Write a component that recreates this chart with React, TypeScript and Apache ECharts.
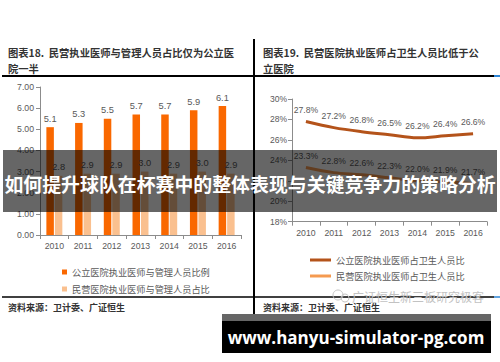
import React, { useEffect, useRef } from "react";
import * as echarts from "echarts";

const years = ["2010", "2011", "2012", "2013", "2014", "2015", "2016"];
const publicRatio = [5.1, 5.3, 5.5, 5.7, 5.7, 5.9, 6.1];
const privateRatio = [2.8, 2.9, 2.9, 3.0, 2.9, 3.0, 2.9];
const publicShare = [27.8, 27.2, 26.8, 26.5, 26.2, 26.4, 26.6];
const privateShare = [23.3, 22.8, 22.6, 22.3, 22.0, 21.9, 21.7];

const barNames = ["公立医院执业医师与管理人员比例", "民营医院执业医师与管理人员占比"];
const lineNames = ["公立医院执业医师占卫生人员比", "民营医院执业医师占卫生人员比"];

const leftTitle = ["图表18.  民营执业医师与管理人员占比仅为公立医", "院一半"];
const rightTitle = ["图表19.  民营医院执业医师占卫生人员比低于公", "立医院"];
const sourceText = "资料来源：卫计委、广证恒生";
const bannerText = "如何提升球队在杯赛中的整体表现与关键竞争力的策略分析";
const siteText = "www.hanyu-simulator-pg.com";
const watermarkText = "广证恒生新三板研究极客";

const CJK = "'Noto Sans CJK SC', sans-serif";
const NUM = "'Liberation Sans', Arial, sans-serif";
const LABEL = "#595959";
const AXIS = "#8c8c8c";

export default function App() {
  const ref = useRef<HTMLDivElement>(null);
  useEffect(() => {
    if (!ref.current) return;
    document.body.style.margin = "0";
    const chart = echarts.init(ref.current, null, { renderer: "svg" });
    const txt = (text: string, x: number, y: number, extra: any = {}, z = 5) => ({
      type: "text",
      x,
      y,
      z,
      style: {
        text,
        fill: "#333",
        fontSize: 10.3,
        fontWeight: "bold",
        fontFamily: CJK,
        verticalAlign: "middle",
        ...extra,
      },
    });
    const ln = (x1: number, y1: number, x2: number, y2: number, stroke = "#000", w = 2, z = 5) => ({
      type: "line",
      z,
      shape: { x1, y1, x2, y2 },
      style: { stroke, lineWidth: w },
    });
    chart.setOption({
      animation: false,
      backgroundColor: "#fff",
      grid: [
        { left: 40, top: 87, width: 201, height: 148 },
        { left: 292, top: 99, width: 195, height: 122.7 },
      ],
      xAxis: [
        {
          type: "category",
          gridIndex: 0,
          data: years,
          axisLine: { lineStyle: { color: AXIS } },
          axisTick: { show: true, length: 4, lineStyle: { color: AXIS } },
          axisLabel: { color: LABEL, fontSize: 8.7, fontFamily: NUM, margin: 6 },
        },
        {
          type: "category",
          gridIndex: 1,
          data: years,
          axisLine: { lineStyle: { color: AXIS } },
          axisTick: { show: true, length: 4, lineStyle: { color: AXIS } },
          axisLabel: { color: LABEL, fontSize: 8.7, fontFamily: NUM, margin: 7 },
        },
      ],
      yAxis: [
        {
          type: "value",
          gridIndex: 0,
          min: 0,
          max: 7,
          interval: 1,
          splitLine: { show: false },
          axisLine: { show: true, lineStyle: { color: AXIS } },
          axisTick: { show: true, length: 4, lineStyle: { color: AXIS } },
          axisLabel: {
            color: LABEL,
            fontSize: 8.7,
            fontFamily: NUM,
            margin: 6,
            formatter: (v: number) => v.toFixed(2),
          },
        },
        {
          type: "value",
          gridIndex: 1,
          min: 18,
          max: 30,
          interval: 2,
          splitLine: { show: false },
          axisLine: { show: true, lineStyle: { color: AXIS } },
          axisTick: { show: true, length: 4, lineStyle: { color: AXIS } },
          axisLabel: {
            color: LABEL,
            fontSize: 8.5,
            fontFamily: NUM,
            margin: 5,
            formatter: (v: number) => v + "%",
          },
        },
      ],
      legend: [
        {
          data: barNames,
          orient: "vertical",
          left: 57,
          top: 261,
          icon: "rect",
          itemWidth: 5,
          itemHeight: 5,
          itemGap: 5,
          textStyle: { color: LABEL, fontSize: 9.2, fontFamily: CJK, lineHeight: 12 },
        },
        {
          data: lineNames,
          orient: "vertical",
          left: 305,
          top: 249,
          icon: "rect",
          itemWidth: 21,
          itemHeight: 3,
          itemGap: 4,
          textStyle: { color: LABEL, fontSize: 9.2, fontFamily: CJK, lineHeight: 12 },
        },
      ],
      series: [
        {
          name: barNames[0],
          type: "bar",
          xAxisIndex: 0,
          yAxisIndex: 0,
          data: publicRatio,
          barWidth: 7.5,
          barGap: "13%",
          itemStyle: { color: "#FA6800" },
          label: {
            show: true,
            position: "top",
            distance: 4,
            color: LABEL,
            fontSize: 9.3,
            fontFamily: NUM,
            formatter: (p: any) => p.value.toFixed(1),
          },
        },
        {
          name: barNames[1],
          type: "bar",
          xAxisIndex: 0,
          yAxisIndex: 0,
          data: privateRatio,
          barWidth: 7.5,
          barGap: "13%",
          itemStyle: { color: "#FAC08F" },
          label: {
            show: true,
            position: "top",
            distance: 4,
            color: LABEL,
            fontSize: 9.3,
            fontFamily: NUM,
            formatter: (p: any) => p.value.toFixed(1),
          },
        },
        {
          name: lineNames[0],
          type: "line",
          xAxisIndex: 1,
          yAxisIndex: 1,
          data: publicShare,
          smooth: 0.35,
          symbol: "circle",
          symbolSize: 0.1,
          lineStyle: { color: "#B4531A", width: 3 },
          itemStyle: { color: "#B4531A" },
          label: {
            show: true,
            position: "top",
            distance: 7,
            color: LABEL,
            fontSize: 8.6,
            fontFamily: NUM,
            formatter: (p: any) => p.value.toFixed(1) + "%",
          },
        },
        {
          name: lineNames[1],
          type: "line",
          xAxisIndex: 1,
          yAxisIndex: 1,
          data: privateShare,
          smooth: 0.35,
          symbol: "circle",
          symbolSize: 0.1,
          lineStyle: { color: "#F59A50", width: 3 },
          itemStyle: { color: "#F59A50" },
          label: {
            show: true,
            position: "top",
            distance: 7,
            color: LABEL,
            fontSize: 8.6,
            fontFamily: NUM,
            formatter: (p: any) => p.value.toFixed(1) + "%",
          },
        },
      ],
      graphic: [
        txt(leftTitle[0], 8, 52),
        txt(leftTitle[1], 8, 68),
        txt(rightTitle[0], 263, 52),
        txt(rightTitle[1], 263, 68),
        ln(2, 76, 254, 76),
        ln(254, 76, 494, 76),
        ln(494, 76, 500, 76, "#2E86D6"),
        ln(254, 39, 254, 314),
        ln(2, 297, 254, 297, "#000", 1.5),
        ln(254, 297, 494, 297, "#000", 1.5),
        ln(494, 297, 500, 297, "#2E86D6", 1.5),
        txt(sourceText, 8, 307, { fontSize: 9 }),
        txt(sourceText, 263, 307, { fontSize: 9 }),
        {
          type: "circle",
          z: 6,
          shape: { cx: 338, cy: 295, r: 5 },
          style: { fill: "none", stroke: "#c4c4c4", lineWidth: 1 },
        },
        {
          type: "circle",
          z: 6,
          shape: { cx: 345, cy: 298, r: 4 },
          style: { fill: "none", stroke: "#c4c4c4", lineWidth: 1 },
        },
        txt(watermarkText, 352, 296, { fill: "#c2c2c2", fontSize: 12, fontWeight: "normal" }, 6),
        {
          type: "rect",
          z: 100,
          shape: { x: 3, y: 150, width: 494, height: 62 },
          style: { fill: "rgba(0,0,0,0.6)" },
        },
        txt(bannerText, 250, 183, { fill: "#fff", fontSize: 18.9, align: "center" }, 101),
        {
          type: "rect",
          z: 100,
          shape: { x: 222, y: 314, width: 269, height: 7 },
          style: { fill: "#666" },
        },
        {
          type: "rect",
          z: 100,
          shape: { x: 222, y: 321, width: 269, height: 32 },
          style: { fill: "#000" },
        },
        txt(
          siteText,
          356,
          337,
          { fill: "#fff", fontSize: 17, align: "center", fontFamily: "'Open Sans', 'Noto Sans', sans-serif" },
          101
        ),
      ],
    });
    return () => chart.dispose();
  }, []);
  return (
    <div
      ref={ref}
      style={{ position: "absolute", left: 0, top: 0, width: 500, height: 362 }}
    />
  );
}
